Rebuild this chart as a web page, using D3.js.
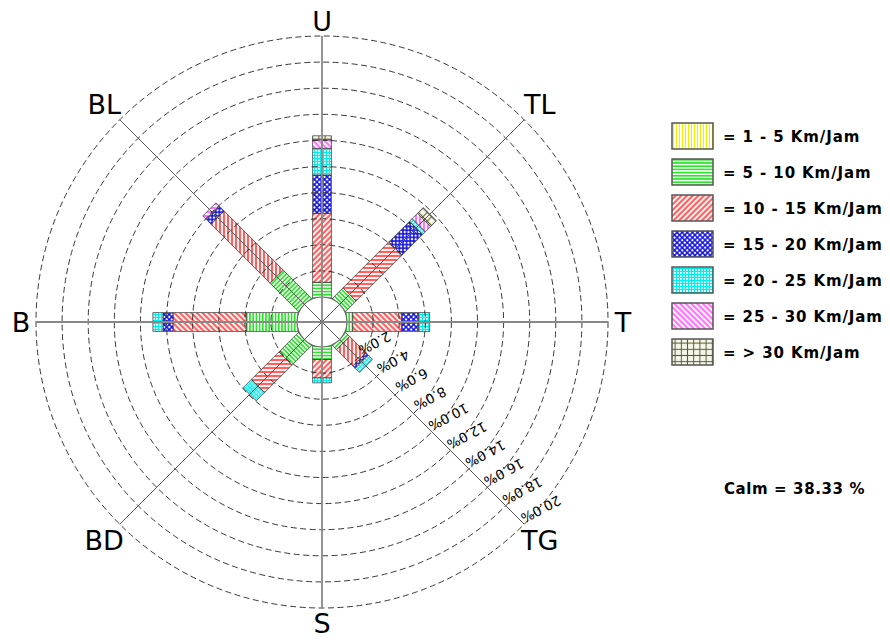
<!DOCTYPE html>
<html>
<head>
<meta charset="utf-8">
<script src="https://cdn.jsdelivr.net/npm/d3@7"></script>
<style>
  body { margin: 0; background: #fff; }
  svg { display: block; }
</style>
</head>
<body>
<div id="chart"></div>
<script>
// wind rose data (percent of all hours)
const directions = ["U", "TL", "T", "TG", "S", "BD", "B", "BL"];
const dirAngles = [0, 45, 90, 135, 180, 225, 270, 315];
const speedClasses = ["1 - 5 Km/Jam", "5 - 10 Km/Jam", "10 - 15 Km/Jam", "15 - 20 Km/Jam",
                      "20 - 25 Km/Jam", "25 - 30 Km/Jam", "> 30 Km/Jam"];
const freq1to5   = [0, 0, 0, 0, 0, 0, 0, 0];
const freq5to10  = [1.13, 1.07, 0.45, 0.38, 0.97, 2.04, 3.90, 3.00];
const freq10to15 = [5.29, 4.98, 3.75, 1.76, 1.40, 2.98, 5.60, 6.40];
const freq15to20 = [2.93, 2.22, 1.30, 0.25, 0, 0, 0.77, 0.54];
const freq20to25 = [2.05, 0.30, 0.84, 0.45, 0.38, 0.90, 0.77, 0];
const freq25to30 = [0.64, 0.57, 0, 0, 0, 0, 0, 0.35];
const freqOver30 = [0.31, 0.63, 0, 0, 0, 0, 0, 0];
const ringTicks = [2, 4, 6, 8, 10, 12, 14, 16, 18, 20];
const calmPct = 38.33;

const series = [freq1to5, freq5to10, freq10to15, freq15to20, freq20to25, freq25to30, freqOver30];

const width = 890, height = 642;
const cx = 322, cy = 322;
const calmR = 25;
const halfW = 9.3;

let r = d3.scaleLinear().domain([0, 20]).range([calmR, 286]);

let svg = d3.select("#chart")
    .append("svg")
    .attr("width", width)
    .attr("height", height);

// hatch patterns, one per speed class
let defs = svg.append("defs");

let makePattern = (id, size, bg, rot) => {
    let p = defs.append("pattern")
        .attr("id", id)
        .attr("patternUnits", "userSpaceOnUse")
        .attr("width", size)
        .attr("height", size);
    if (rot) p.attr("patternTransform", "rotate(" + rot + ")");
    p.append("rect").attr("width", size).attr("height", size).attr("fill", bg);
    return p;
};

let pYellow = makePattern("p0", 3, "#fffff0");
pYellow.append("line").attr("x1", 1.5).attr("x2", 1.5).attr("y1", 0).attr("y2", 3)
    .attr("stroke", "#f0f000").attr("stroke-width", 1);

let pGreen = makePattern("p1", 3.2, "#f0fff0");
pGreen.append("line").attr("x1", 0).attr("x2", 3.2).attr("y1", 1.6).attr("y2", 1.6)
    .attr("stroke", "#00e000").attr("stroke-width", 1.3);

let pRed = makePattern("p2", 4, "#fff0f0", 45);
pRed.append("line").attr("x1", 2).attr("x2", 2).attr("y1", 0).attr("y2", 4)
    .attr("stroke", "#ff1a1a").attr("stroke-width", 1.35);

let pBlue = makePattern("p3", 3.6, "#ffffff", 45);
pBlue.append("line").attr("x1", 1.8).attr("x2", 1.8).attr("y1", 0).attr("y2", 3.6)
    .attr("stroke", "#1010e0").attr("stroke-width", 1.5);
pBlue.append("line").attr("x1", 0).attr("x2", 3.6).attr("y1", 1.8).attr("y2", 1.8)
    .attr("stroke", "#1010e0").attr("stroke-width", 1.5);

let pCyan = makePattern("p4", 3, "#ffffff");
pCyan.append("line").attr("x1", 1.5).attr("x2", 1.5).attr("y1", 0).attr("y2", 3)
    .attr("stroke", "#00f0f0").attr("stroke-width", 1.2);
pCyan.append("line").attr("x1", 0).attr("x2", 3).attr("y1", 1.5).attr("y2", 1.5)
    .attr("stroke", "#00f0f0").attr("stroke-width", 1.2);

let pMagenta = makePattern("p5", 4, "#fff0ff", -45);
pMagenta.append("line").attr("x1", 2).attr("x2", 2).attr("y1", 0).attr("y2", 4)
    .attr("stroke", "#ff20ff").attr("stroke-width", 1.2);

let pOlive = makePattern("p6", 6.2, "#f6f6ea");
pOlive.append("line").attr("x1", 3.1).attr("x2", 3.1).attr("y1", 0).attr("y2", 6.2)
    .attr("stroke", "#5a5a30").attr("stroke-width", 1);
pOlive.append("line").attr("x1", 0).attr("x2", 6.2).attr("y1", 3.1).attr("y2", 3.1)
    .attr("stroke", "#5a5a30").attr("stroke-width", 1);

let plot = svg.append("g").attr("transform", "translate(" + cx + "," + cy + ")");

// stacked bars, one group per direction, rotated so each bar points outwards
directions.forEach((dir, i) => {
    let g = plot.append("g").attr("transform", "rotate(" + dirAngles[i] + ")");
    let cum = 0;
    series.forEach((vals, k) => {
        let v = vals[i];
        if (v <= 0) return;
        let r0 = cum === 0 ? calmR - 6 : r(cum);
        let r1 = r(cum + v);
        g.append("rect")
            .attr("x", -halfW)
            .attr("y", -r1)
            .attr("width", 2 * halfW)
            .attr("height", r1 - r0)
            .attr("fill", "url(#p" + k + ")")
            .attr("stroke", "#333")
            .attr("stroke-width", 0.7);
        cum += v;
    });
});

// dashed rings
plot.selectAll(".ring")
    .data(ringTicks)
    .join("circle")
    .attr("class", "ring")
    .attr("r", d => r(d))
    .attr("fill", "none")
    .attr("stroke", "#222")
    .attr("stroke-width", 0.9)
    .attr("stroke-dasharray", "6,3.5");

// calm circle
plot.append("circle")
    .attr("r", calmR)
    .attr("fill", "#fff")
    .attr("stroke", "#666")
    .attr("stroke-width", 1.2);

// spokes
dirAngles.forEach(a => {
    let rad = a * Math.PI / 180;
    let main = a % 90 === 0;
    plot.append("line")
        .attr("x1", 0).attr("y1", 0)
        .attr("x2", Math.sin(rad) * r(20))
        .attr("y2", -Math.cos(rad) * r(20))
        .attr("stroke", main ? "#888" : "#555")
        .attr("stroke-width", main ? 1.8 : 1);
});

// direction names
directions.forEach((dir, i) => {
    let rad = dirAngles[i] * Math.PI / 180;
    let rr = dirAngles[i] % 90 === 0 ? 301 : 308;
    plot.append("text")
        .attr("x", Math.sin(rad) * rr)
        .attr("y", -Math.cos(rad) * rr)
        .attr("dy", "0.36em")
        .attr("text-anchor", "middle")
        .style("font-family", "DejaVu Sans, sans-serif")
        .style("font-size", "27px")
        .text(dir);
});

// ring labels along the south-east spoke
let fmt = d3.format(".1f");
ringTicks.forEach(t => {
    let d = r(t) / Math.SQRT2;
    let x = d + 16.5, y = d - 15;
    plot.append("text")
        .attr("transform", "translate(" + x + "," + y + ") rotate(152)")
        .attr("text-anchor", "middle")
        .attr("dy", "0.35em")
        .style("font-family", "DejaVu Sans, sans-serif")
        .style("font-size", "13.5px")
        .text(fmt(t) + "%");
});

// legend
let legend = svg.append("g").attr("transform", "translate(672,123)");
speedClasses.forEach((label, k) => {
    legend.append("rect")
        .attr("x", 0)
        .attr("y", k * 36)
        .attr("width", 41)
        .attr("height", 26)
        .attr("fill", "url(#p" + k + ")")
        .attr("stroke", "#555")
        .attr("stroke-width", 1.5);
    legend.append("text")
        .attr("x", 51)
        .attr("y", k * 36 + 18.5)
        .style("font-family", "DejaVu Sans, sans-serif")
        .style("font-weight", "bold")
        .style("font-size", "15px")
        .style("letter-spacing", "0.9px")
        .text("= " + label);
});

svg.append("text")
    .attr("x", 724)
    .attr("y", 494)
    .style("font-family", "DejaVu Sans, sans-serif")
    .style("font-weight", "bold")
    .style("font-size", "15px")
    .style("letter-spacing", "0.6px")
    .text("Calm = " + calmPct.toFixed(2) + " %");
</script>
</body>
</html>
